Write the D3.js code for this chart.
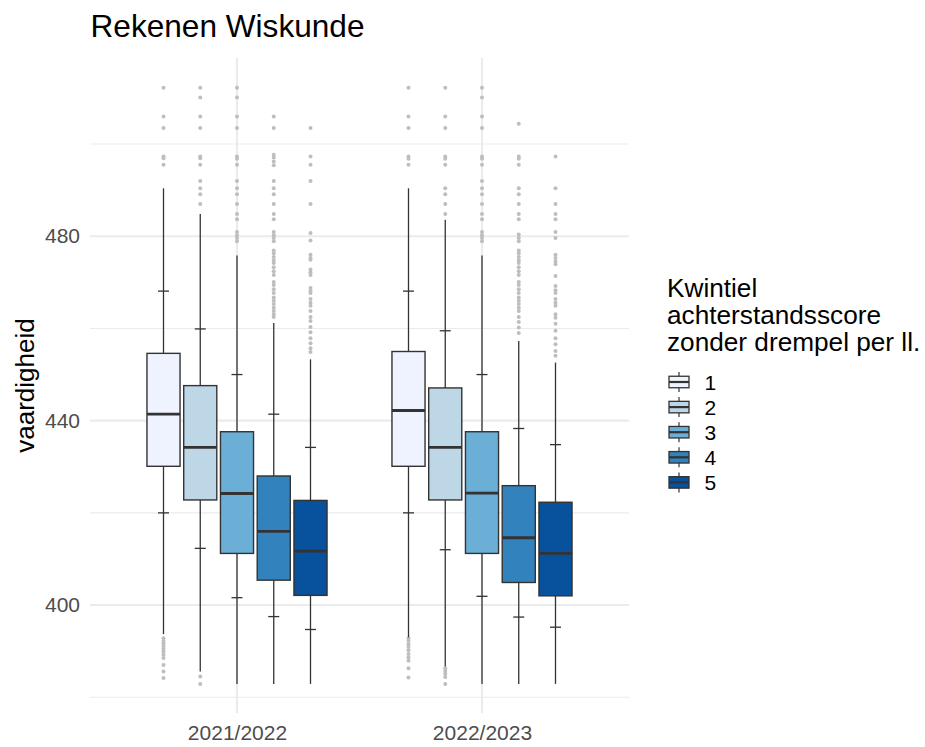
<!DOCTYPE html>
<html>
<head>
<meta charset="utf-8">
<script src="https://cdn.jsdelivr.net/npm/d3@7"></script>
<style>
  html, body { margin: 0; padding: 0; background: #fff; }
  svg { display: block; font-family: "Liberation Sans", Arial, Helvetica, sans-serif; }
</style>
</head>
<body>
<svg id="chart" width="925" height="747"></svg>
<script>
// School years on the x axis and quintile groups within each year
const years = ["2021/2022", "2022/2023"];
const quintiles = ["1", "2", "3", "4", "5"];
const fills = ["#EFF3FF", "#BDD7E7", "#6BAED6", "#3182BD", "#08519C"];

// Box statistics per year, one entry per quintile
const q1 = {
  "2021/2022": [430.1, 422.8, 411.2, 405.4, 402.1],
  "2022/2023": [430.1, 422.8, 411.2, 404.9, 402.0]
};
const median = {
  "2021/2022": [441.4, 434.2, 424.2, 416.0, 411.7],
  "2022/2023": [442.2, 434.2, 424.3, 414.6, 411.2]
};
const q3 = {
  "2021/2022": [454.6, 447.6, 437.6, 428.0, 422.7],
  "2022/2023": [455.0, 447.1, 437.6, 425.9, 422.3]
};
const whiskerLow = {
  "2021/2022": [393.7, 385.6, 382.9, 382.9, 382.9],
  "2022/2023": [393.0, 386.7, 382.9, 382.9, 382.9]
};
const whiskerHigh = {
  "2021/2022": [490.4, 484.8, 475.8, 461.2, 453.3],
  "2022/2023": [490.4, 483.6, 475.8, 457.3, 452.6]
};
// Short cross marks on the whiskers
const markLow = {
  "2021/2022": [420.0, 412.3, 401.6, 397.5, 394.7],
  "2022/2023": [420.0, 412.0, 401.9, 397.4, 395.2]
};
const markHigh = {
  "2021/2022": [468.1, 459.9, 450.0, 441.4, 434.2],
  "2022/2023": [468.1, 459.5, 450.0, 438.3, 434.8]
};

// Outliers per year and quintile
const outliers = {
  "2021/2022": [
    [512.2, 506.0, 503.5, 497.3, 496.9, 495.5,
     392.8, 392.2, 391.7, 391.1, 390.5, 389.9, 389.2, 388.5, 387.0, 385.6, 384.2],
    [512.2, 510.1, 506.0, 503.5, 497.3, 496.9, 495.5, 492.0, 490.4, 489.1, 487.0,
     384.5, 382.9],
    [512.2, 510.1, 506.0, 503.5, 497.3, 496.8, 495.5, 492.0, 490.4, 489.1, 487.0,
     484.8, 483.7, 480.9, 480.2, 479.6, 478.9],
    [506.0, 503.5, 497.7, 497.1, 496.2, 495.4, 492.0, 490.4, 489.1, 487.0, 484.8,
     483.7, 480.9, 480.2, 479.6, 478.9, 476.9, 476.3, 475.5, 474.8, 474.2, 473.3,
     472.4, 471.6, 470.1, 469.4, 468.5, 467.7, 466.7, 466.0, 465.3, 464.5, 463.8,
     463.1, 462.5],
    [503.5, 497.3, 495.5, 492.0, 487.0, 480.7, 479.1, 476.0, 475.3, 474.9, 472.8,
     472.2, 471.6, 468.8, 468.1, 467.7, 466.4, 465.6, 464.9, 463.8, 462.5, 461.6,
     460.3, 459.2, 457.9, 456.8, 455.7, 454.9]
  ],
  "2022/2023": [
    [512.2, 506.0, 503.5, 497.3, 496.8, 495.5,
     392.8, 392.2, 391.5, 390.9, 390.2, 389.4, 388.6, 387.9, 386.3, 384.3],
    [512.2, 506.0, 503.5, 497.3, 496.8, 495.5, 490.4, 489.1, 487.0, 484.8,
     386.3, 385.7, 385.1, 384.4, 382.9],
    [512.2, 510.1, 506.0, 503.5, 497.3, 496.8, 495.5, 492.0, 490.4, 489.1, 487.0,
     484.8, 483.7, 480.9, 480.2, 479.6, 478.9],
    [504.4, 497.3, 496.8, 495.5, 490.4, 489.1, 487.0, 484.8, 483.7, 480.4, 479.6,
     478.9, 476.9, 476.3, 475.5, 474.8, 474.2, 473.3, 472.4, 471.6, 470.1, 469.4,
     468.5, 467.7, 466.7, 466.0, 465.3, 464.5, 463.8, 462.5, 461.4, 460.2, 459.0],
    [497.3, 490.4, 487.0, 484.8, 483.7, 480.9, 479.6, 476.0, 475.3, 474.5, 473.9,
     471.4, 469.2, 468.3, 467.7, 466.4, 465.6, 464.9, 463.1, 462.3, 461.0, 459.5,
     457.9, 456.6, 455.1, 454.1]
  ]
};

const yMajorTicks = [400, 440, 480];
const yMinorTicks = [380, 420, 460, 500];

const titleText = "Rekenen Wiskunde";
const yTitle = "vaardigheid";
const legendTitle = ["Kwintiel", "achterstandsscore", "zonder drempel per ll."];

// ---- layout ----
const panel = { left: 90, right: 629, top: 58, bottom: 713 };
const svg = d3.select("#chart");

const x = d3.scalePoint().domain(years).range([panel.left, panel.right]).padding(0.6);
const dodge = d3.scaleBand().domain(quintiles)
  .range([-0.375 * x.step(), 0.375 * x.step()])
  .paddingInner(0.1).paddingOuter(0.05);

// Y domain: full data range with 5% expansion on each side
let allVals = [];
years.forEach(yr => {
  allVals = allVals.concat(whiskerLow[yr], whiskerHigh[yr]);
  outliers[yr].forEach(o => { allVals = allVals.concat(o); });
});
const [dMin, dMax] = d3.extent(allVals);
const pad = (dMax - dMin) * 0.05;
const y = d3.scaleLinear().domain([dMin - pad, dMax + pad]).range([panel.bottom + 0.7, panel.top]);

// ---- grid ----
const grid = svg.append("g");
grid.selectAll("line.minor").data(yMinorTicks).join("line")
  .attr("x1", panel.left).attr("x2", panel.right)
  .attr("y1", d => y(d)).attr("y2", d => y(d))
  .attr("stroke", "#EBEBEB").attr("stroke-width", 1.1);
grid.selectAll("line.major").data(yMajorTicks).join("line")
  .attr("x1", panel.left).attr("x2", panel.right)
  .attr("y1", d => y(d)).attr("y2", d => y(d))
  .attr("stroke", "#EBEBEB").attr("stroke-width", 2.1);
grid.selectAll("line.vmajor").data(years).join("line")
  .attr("x1", d => x(d)).attr("x2", d => x(d))
  .attr("y1", panel.top).attr("y2", panel.bottom)
  .attr("stroke", "#EBEBEB").attr("stroke-width", 2.1);

// ---- axes (text only, as in a minimal theme) ----
const yAxis = svg.append("g")
  .attr("transform", `translate(${panel.left - 10},0)`)
  .call(d3.axisLeft(y).tickValues(yMajorTicks).tickSize(0).tickPadding(0));
yAxis.select(".domain").remove();
yAxis.selectAll("text")
  .attr("font-size", 21).attr("fill", "#4D4D4D")
  .attr("font-family", "Liberation Sans, Arial, sans-serif");

const xAxis = svg.append("g")
  .attr("transform", `translate(0,${panel.bottom})`)
  .call(d3.axisBottom(x).tickSize(0).tickPadding(0));
xAxis.select(".domain").remove();
xAxis.selectAll("text")
  .attr("font-size", 21).attr("fill", "#4D4D4D")
  .attr("dy", null).attr("y", 27)
  .attr("font-family", "Liberation Sans, Arial, sans-serif");

// ---- boxplots ----
const boxes = [];
years.forEach(yr => {
  quintiles.forEach((q, i) => {
    boxes.push({
      year: yr, q, i,
      cx: x(yr) + dodge(q) + dodge.bandwidth() / 2,
      q1: q1[yr][i], med: median[yr][i], q3: q3[yr][i],
      lo: whiskerLow[yr][i], hi: whiskerHigh[yr][i],
      mLo: markLow[yr][i], mHi: markHigh[yr][i],
      out: outliers[yr][i]
    });
  });
});
const bw = dodge.bandwidth();
const ink = "#333333";

const gBox = svg.append("g");
// outliers
boxes.forEach(b => {
  gBox.append("g").selectAll("circle").data(b.out).join("circle")
    .attr("cx", b.cx).attr("cy", d => y(d)).attr("r", 2)
    .attr("fill", "#BEBEBE");
});
// whiskers
boxes.forEach(b => {
  gBox.append("line")
    .attr("x1", b.cx).attr("x2", b.cx)
    .attr("y1", y(b.hi)).attr("y2", y(b.q3))
    .attr("stroke", ink).attr("stroke-width", 1.3);
  gBox.append("line")
    .attr("x1", b.cx).attr("x2", b.cx)
    .attr("y1", y(b.q1)).attr("y2", y(b.lo))
    .attr("stroke", ink).attr("stroke-width", 1.3);
});
// boxes and medians
boxes.forEach(b => {
  gBox.append("rect")
    .attr("x", b.cx - bw / 2).attr("width", bw)
    .attr("y", y(b.q3)).attr("height", y(b.q1) - y(b.q3))
    .attr("fill", fills[b.i]).attr("stroke", ink).attr("stroke-width", 1.4);
  gBox.append("line")
    .attr("x1", b.cx - bw / 2).attr("x2", b.cx + bw / 2)
    .attr("y1", y(b.med)).attr("y2", y(b.med))
    .attr("stroke", ink).attr("stroke-width", 2.8);
});
// whisker cross marks
boxes.forEach(b => {
  [b.mLo, b.mHi].forEach(v => {
    gBox.append("line")
      .attr("x1", b.cx - 5.5).attr("x2", b.cx + 5.5)
      .attr("y1", y(v)).attr("y2", y(v))
      .attr("stroke", ink).attr("stroke-width", 1.3);
  });
});

// ---- titles ----
svg.append("text")
  .attr("x", panel.left + 0.5).attr("y", 37)
  .attr("font-size", 31.6).attr("fill", "#000")
  .text(titleText);

svg.append("text")
  .attr("transform", `translate(34,${(panel.top + panel.bottom) / 2}) rotate(-90)`)
  .attr("text-anchor", "middle")
  .attr("font-size", 26).attr("fill", "#000")
  .text(yTitle);

// ---- legend ----
const lg = svg.append("g");
lg.selectAll("text.title").data(legendTitle).join("text")
  .attr("x", 667).attr("y", (d, i) => 297 + i * 27.2)
  .attr("font-size", 26.2).attr("fill", "#000")
  .text(d => d);

const keyTop = 369.5, keyStep = 25.1, keyW = 25, keyH = 25, keyX = 666.5;
quintiles.forEach((q, i) => {
  const k = lg.append("g").attr("transform", `translate(${keyX},${keyTop + i * keyStep})`);
  k.append("line").attr("x1", keyW / 2).attr("x2", keyW / 2)
    .attr("y1", keyH * 0.1).attr("y2", keyH * 0.9)
    .attr("stroke", ink).attr("stroke-width", 1.2);
  k.append("rect")
    .attr("x", keyW * 0.1).attr("width", keyW * 0.8)
    .attr("y", keyH * 0.27).attr("height", keyH * 0.46)
    .attr("fill", fills[i]).attr("stroke", ink).attr("stroke-width", 1.3);
  k.append("line").attr("x1", keyW * 0.1).attr("x2", keyW * 0.9)
    .attr("y1", keyH / 2).attr("y2", keyH / 2)
    .attr("stroke", ink).attr("stroke-width", 2.2);
  k.append("text")
    .attr("x", 38).attr("y", keyH / 2)
    .attr("dominant-baseline", "central")
    .attr("font-size", 21).attr("fill", "#000")
    .text(q);
});
</script>
</body>
</html>
